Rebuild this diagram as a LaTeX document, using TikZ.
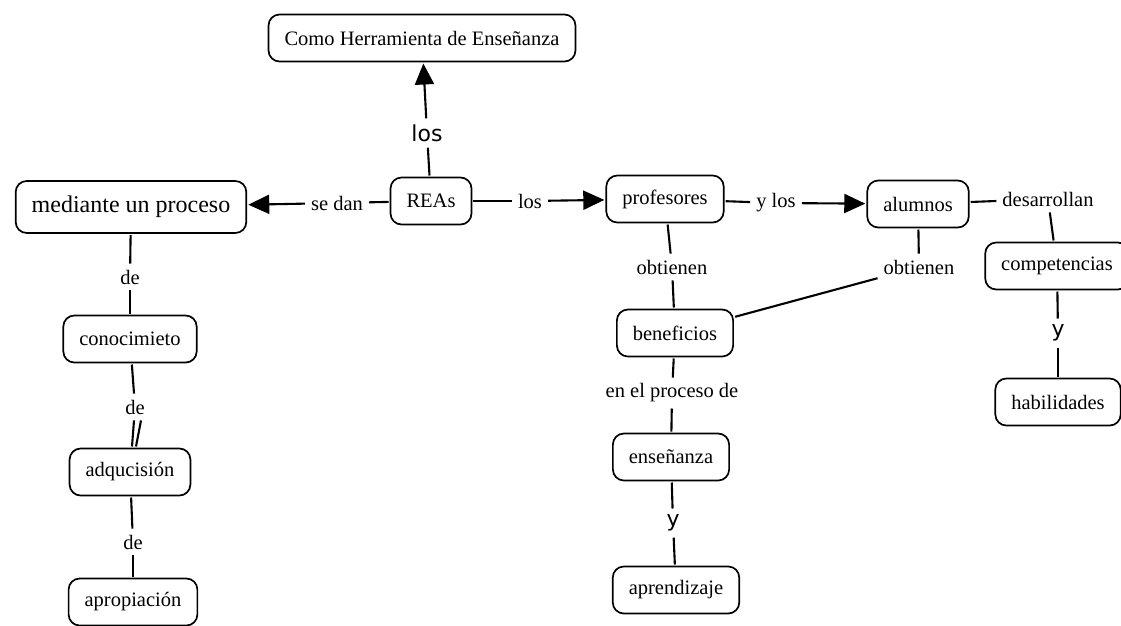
\documentclass[tikz,border=0pt]{standalone}
\usepackage{fontspec}
\setmainfont{Liberation Serif}
\newfontfamily\labelsans{DejaVu Sans}
\usetikzlibrary{arrows.meta}
\tikzstyle{concept} = [draw, rounded corners=11pt, line width=1.7pt, inner xsep=16pt, minimum height=47pt, outer sep=2pt, font=\fontsize{20.5}{24}\selectfont]
\tikzstyle{linkword} = [inner sep=6pt, font=\fontsize{20.5}{24}\selectfont]
\tikzstyle{linksans} = [inner sep=6pt, font=\labelsans\fontsize{22}{26}\selectfont]
\tikzstyle{tie} = [line width=2.1pt]
\tikzstyle{arrowtie} = [tie, -{Triangle[length=21pt,width=19pt]}]

\begin{document}
\begin{tikzpicture}[x=1pt, y=-1pt]
    \useasboundingbox (0,0) rectangle (1121,625);
    % concepts
    \node[concept] (como) at (422,38) {Como Herramienta de Enseñanza};
    \node[concept] (reas) at (431,201) {REAs};
    \node[concept, minimum height=52pt, font=\fontsize{24}{28}\selectfont] (mediante) at (131,207) {mediante un proceso};
    \node[concept] (profesores) at (665,199) {profesores};
    \node[concept] (alumnos) at (918,204) {alumnos};
    \node[concept] (competencias) at (1057,266) {competencias};
    \node[concept] (habilidades) at (1058,402) {habilidades};
    \node[concept] (beneficios) at (675,333) {beneficios};
    \node[concept] (ensenanza) at (671,457) {enseñanza};
    \node[concept] (aprendizaje) at (676,590) {aprendizaje};
    \node[concept] (conocimieto) at (130,339) {conocimieto};
    \node[concept] (adqucision) at (130,472) {adqucisión};
    \node[concept] (apropiacion) at (133,602) {apropiación};
    % linking words
    \node[linksans] (losup) at (427,133) {los};
    \node[linkword] (sedan) at (337,203) {se dan};
    \node[linkword] (losright) at (530,201) {los};
    \node[linkword] (ylos) at (776,203) {y los};
    \node[linkword] (desarrollan) at (1048,199) {desarrollan};
    \node[linkword] (obtprof) at (672,267) {obtienen};
    \node[linkword] (obtalum) at (919,267) {obtienen};
    \node[linksans] (ycomp) at (1058,333) {y};
    \node[linkword] (deone) at (130,277) {de};
    \node[linkword] (detwo) at (135,407) {de};
    \node[linkword] (dethree) at (133,542) {de};
    \node[linkword] (enproceso) at (672,393) {en el proceso de};
    \node[linksans] (yens) at (673,523) {y};
    % connectors
    \draw[tie] (reas) -- (losup);
    \draw[arrowtie] (losup) -- (como);
    \draw[tie] (reas) -- (sedan);
    \draw[arrowtie] (sedan) -- (mediante);
    \draw[tie] (reas) -- (losright);
    \draw[arrowtie] (losright) -- (profesores);
    \draw[tie] (profesores) -- (ylos);
    \draw[arrowtie] (ylos) -- (alumnos);
    \draw[tie] (alumnos) -- (desarrollan);
    \draw[tie] (desarrollan) -- (competencias);
    \draw[tie] (competencias) -- (ycomp);
    \draw[tie] (ycomp) -- (habilidades);
    \draw[tie] (profesores) -- (obtprof);
    \draw[tie] (obtprof) -- (beneficios);
    \draw[tie] (alumnos) -- (obtalum);
    \draw[tie] (obtalum) -- (beneficios);
    \draw[tie] (beneficios) -- (enproceso);
    \draw[tie] (enproceso) -- (ensenanza);
    \draw[tie] (ensenanza) -- (yens);
    \draw[tie] (yens) -- (aprendizaje);
    \draw[tie] (mediante) -- (deone);
    \draw[tie] (deone) -- (conocimieto);
    \draw[tie] (conocimieto) -- (detwo);
    \draw[tie] ([xshift=-1pt]detwo.south) -- ([xshift=2pt]adqucision.north);
    \draw[tie] ([xshift=6pt]detwo.south) -- ([xshift=6pt]adqucision.north);
    \draw[tie] (adqucision) -- (dethree);
    \draw[tie] (dethree) -- (apropiacion);
\end{tikzpicture}
\end{document}
